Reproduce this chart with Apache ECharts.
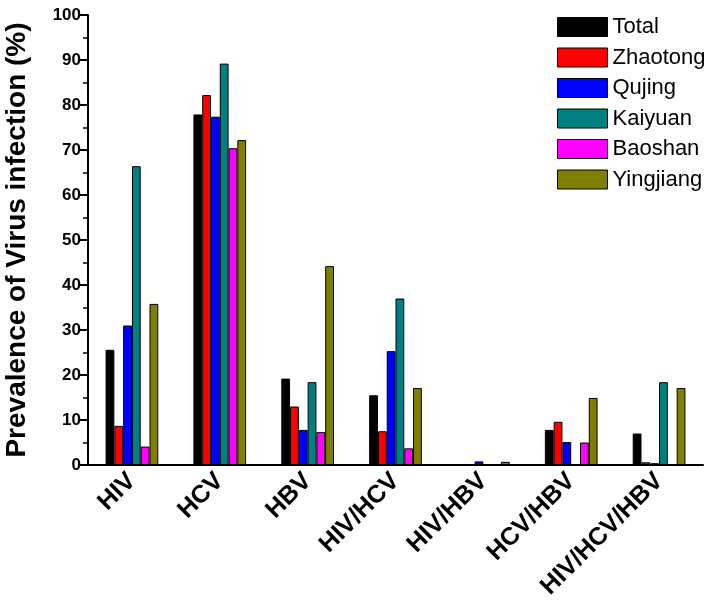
<!DOCTYPE html>
<html>
<head>
<meta charset="utf-8">
<script src="https://cdn.jsdelivr.net/npm/echarts@6/dist/echarts.min.js"></script>
<style>html,body{margin:0;padding:0;background:#fff;}#c{width:712px;height:609px;}</style>
</head>
<body>
<div id="c"></div>
<script>
var categories = ['HIV', 'HCV', 'HBV', 'HIV/HCV', 'HIV/HBV', 'HCV/HBV', 'HIV/HCV/HBV'];
var seriesNames = ['Total', 'Zhaotong', 'Qujing', 'Kaiyuan', 'Baoshan', 'Yingjiang'];
var total     = [25.6, 77.9, 19.2, 15.5, 0.2, 7.8, 7.0];
var zhaotong  = [8.7, 82.2, 13.0, 7.5, 0, 9.6, 0.6];
var qujing    = [31.0, 77.4, 7.8, 25.3, 0.8, 5.1, 0.4];
var kaiyuan   = [66.4, 89.2, 18.4, 37.0, 0, 0, 18.4];
var baoshan   = [4.1, 70.4, 7.3, 3.7, 0, 5.0, 0];
var yingjiang = [35.8, 72.2, 44.2, 17.1, 0.7, 14.9, 17.1];
var yTicks = [0, 10, 20, 30, 40, 50, 60, 70, 80, 90, 100];

var colors = ['#000000', '#ff0000', '#0000ff', '#008080', '#ff00ff', '#808000'];
var dataSets = [total, zhaotong, qujing, kaiyuan, baoshan, yingjiang];

var chart = echarts.init(document.getElementById('c'));
var series = seriesNames.map(function (n, i) {
  return {
    name: n,
    type: 'bar',
    data: dataSets[i],
    barGap: '0%',
    barCategoryGap: '40%',
    itemStyle: { color: colors[i], borderColor: '#000', borderWidth: 1 }
  };
});
chart.setOption({
  animation: false,
  backgroundColor: '#ffffff',
  color: colors,
  grid: { left: 88, right: 9, top: 15, bottom: 144, containLabel: false, outerBoundsMode: 'none' },
  legend: {
    data: seriesNames,
    orient: 'vertical',
    left: 552,
    top: 11,
    itemWidth: 50,
    itemHeight: 19,
    itemGap: 8.5,
    icon: 'rect',
    textStyle: { fontFamily: 'Liberation Sans, Arial, sans-serif', fontSize: 22, lineHeight: 19, color: '#000' },
    itemStyle: { borderColor: '#000', borderWidth: 1 }
  },
  xAxis: {
    type: 'category',
    data: categories,
    axisLine: { lineStyle: { color: '#000', width: 2 } },
    axisTick: { show: false },
    axisLabel: {
      rotate: 45,
      interval: 0,
      margin: 12,
      color: '#000',
      fontFamily: 'Liberation Sans, Arial, sans-serif',
      fontWeight: 'bold',
      fontSize: 25
    }
  },
  yAxis: {
    type: 'value',
    min: yTicks[0],
    max: yTicks[yTicks.length - 1],
    interval: 10,
    name: 'Prevalence of Virus infection (%)',
    nameLocation: 'middle',
    nameGap: 57,
    nameTextStyle: { fontFamily: 'Liberation Sans, Arial, sans-serif', fontWeight: 'bold', fontSize: 28, color: '#000' },
    axisLine: { show: true, lineStyle: { color: '#000', width: 2 } },
    axisTick: { show: true, inside: false, length: 8, lineStyle: { color: '#000', width: 2 } },
    minorTick: { show: true, splitNumber: 2, length: 5, lineStyle: { color: '#000', width: 1.5 } },
    splitLine: { show: false },
    axisLabel: {
      margin: 7,
      color: '#000',
      fontFamily: 'Liberation Sans, Arial, sans-serif',
      fontWeight: 'bold',
      fontSize: 17
    }
  },
  series: series
});
</script>
</body>
</html>
